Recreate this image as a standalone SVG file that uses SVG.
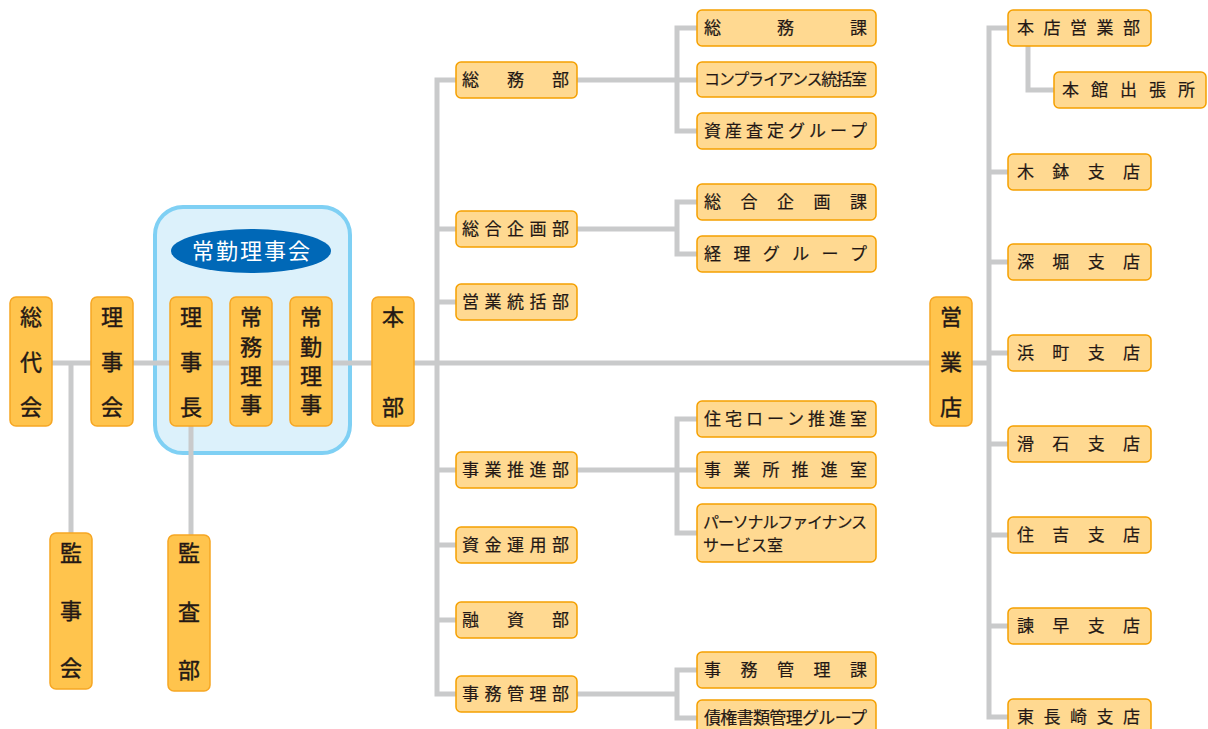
<svg xmlns="http://www.w3.org/2000/svg" width="1208" height="729" viewBox="0 0 1208 729">
<style>
.ln{stroke:#C9CACB;stroke-width:5;fill:none}
.dk{fill:#FFC44D;stroke:#F6A623;stroke-width:1.5}
.lt{fill:#FFD991;stroke:#F5A000;stroke-width:1.5}
text{font-family:"Noto Sans CJK JP","Noto Sans",sans-serif;fill:#231815}
.v{font-size:22px;text-anchor:middle;stroke:#231815;stroke-width:0.4}
.h{font-size:17px;stroke:#231815;stroke-width:0.2}
.s{font-size:16px;stroke:#231815;stroke-width:0.2}
</style>
<rect width="1208" height="729" fill="#FFFFFF"/>
<g id="joukin-container">
<rect x="155" y="207" width="195" height="246" rx="28" fill="#DCF1FB" stroke="#7FD0F4" stroke-width="4"/>
<ellipse cx="251" cy="251" rx="80" ry="22" fill="#0068B7"/>
<text x="251" y="259" text-anchor="middle" style="font-size:22px;fill:#FFFFFF" textLength="118" lengthAdjust="spacing">常勤理事会</text>
</g>
<g id="connectors">
<path class="ln" d="M52 363H989"/>
<path class="ln" d="M71 363V533"/>
<path class="ln" d="M191 426V535"/>
<path class="ln" d="M456 80H437V694H456M437 229H456M437 302H456M437 470H456M437 545H456M437 620H456"/>
<path class="ln" d="M577 80H677M697 28H677V131H697M677 80H697"/>
<path class="ln" d="M577 229H677M697 202H677V254H697"/>
<path class="ln" d="M577 470H697M697 419H677V533H697"/>
<path class="ln" d="M577 694H677M697 670H677V718H697"/>
<path class="ln" d="M1008 28H989V717H1008M989 172H1008M989 262H1008M989 353H1008M989 444H1008M989 535H1008M989 626H1008"/>
<path class="ln" d="M1028 46V90H1054"/>
</g>
<g id="soudaikai"><rect class="dk" x="10" y="297" width="42" height="129" rx="6"/><text class="v" x="31"><tspan x="31" y="325">総</tspan><tspan x="31" y="370">代</tspan><tspan x="31" y="415">会</tspan></text></g>
<g id="rijikai"><rect class="dk" x="91" y="297" width="42" height="129" rx="6"/><text class="v"><tspan x="112" y="325">理</tspan><tspan x="112" y="370">事</tspan><tspan x="112" y="415">会</tspan></text></g>
<g id="rijichou"><rect class="dk" x="170" y="297" width="42" height="129" rx="6"/><text class="v"><tspan x="191" y="325">理</tspan><tspan x="191" y="370">事</tspan><tspan x="191" y="415">長</tspan></text></g>
<g id="joumu"><rect class="dk" x="230" y="297" width="42" height="129" rx="6"/><text class="v"><tspan x="251" y="325">常</tspan><tspan x="251" y="355">務</tspan><tspan x="251" y="384">理</tspan><tspan x="251" y="413">事</tspan></text></g>
<g id="joukin"><rect class="dk" x="290" y="297" width="42" height="129" rx="6"/><text class="v"><tspan x="311" y="325">常</tspan><tspan x="311" y="355">勤</tspan><tspan x="311" y="384">理</tspan><tspan x="311" y="413">事</tspan></text></g>
<g id="kanjikai"><rect class="dk" x="50" y="533" width="42" height="156" rx="6"/><text class="v"><tspan x="71" y="561">監</tspan><tspan x="71" y="619">事</tspan><tspan x="71" y="676">会</tspan></text></g>
<g id="kansabu"><rect class="dk" x="168" y="535" width="42" height="156" rx="6"/><text class="v"><tspan x="189" y="561">監</tspan><tspan x="189" y="620">査</tspan><tspan x="189" y="678">部</tspan></text></g>
<g id="honbu"><rect class="dk" x="372" y="297" width="42" height="129" rx="6"/><text class="v"><tspan x="393" y="325">本</tspan><tspan x="393" y="415">部</tspan></text></g>
<g id="eigyouten"><rect class="dk" x="930" y="297" width="42" height="129" rx="6"/><text class="v"><tspan x="951" y="325">営</tspan><tspan x="951" y="370">業</tspan><tspan x="951" y="415">店</tspan></text></g>

<g id="soumubu"><rect class="lt" x="456" y="62" width="121" height="36" rx="5"/><text class="h" x="462" y="86" textLength="107" lengthAdjust="spacing">総　務　部</text></g>
<g id="sougoukikakubu"><rect class="lt" x="456" y="211" width="121" height="36" rx="5"/><text class="h" x="462" y="235" textLength="107" lengthAdjust="spacing">総合企画部</text></g>
<g id="eigyoutoukatsubu"><rect class="lt" x="456" y="284" width="121" height="36" rx="5"/><text class="h" x="462" y="308" textLength="107" lengthAdjust="spacing">営業統括部</text></g>
<g id="jigyousuishinbu"><rect class="lt" x="456" y="452" width="121" height="36" rx="5"/><text class="h" x="462" y="476" textLength="107" lengthAdjust="spacing">事業推進部</text></g>
<g id="shikinunyoubu"><rect class="lt" x="456" y="527" width="121" height="36" rx="5"/><text class="h" x="462" y="551" textLength="107" lengthAdjust="spacing">資金運用部</text></g>
<g id="yuushibu"><rect class="lt" x="456" y="602" width="121" height="36" rx="5"/><text class="h" x="462" y="626" textLength="107" lengthAdjust="spacing">融　資　部</text></g>
<g id="jimukanribu"><rect class="lt" x="456" y="676" width="121" height="36" rx="5"/><text class="h" x="462" y="700" textLength="107" lengthAdjust="spacing">事務管理部</text></g>

<g id="soumuka"><rect class="lt" x="697" y="10" width="179" height="36" rx="5"/><text class="h" x="704" y="34" textLength="163" lengthAdjust="spacing">総　　務　　課</text></g>
<g id="compliance"><rect class="lt" x="697" y="62" width="179" height="35" rx="5"/><text class="s" x="704" y="85" textLength="163" lengthAdjust="spacing">コンプライアンス統括室</text></g>
<g id="shisansatei"><rect class="lt" x="697" y="113" width="179" height="36" rx="5"/><text class="h" x="704" y="137" textLength="163" lengthAdjust="spacing">資産査定グループ</text></g>
<g id="sougoukikakuka"><rect class="lt" x="697" y="184" width="179" height="36" rx="5"/><text class="h" x="704" y="208" textLength="163" lengthAdjust="spacing">総合企画課</text></g>
<g id="keiri"><rect class="lt" x="697" y="236" width="179" height="36" rx="5"/><text class="h" x="704" y="260" textLength="163" lengthAdjust="spacing">経理グループ</text></g>
<g id="juutakuloan"><rect class="lt" x="697" y="401" width="179" height="36" rx="5"/><text class="h" x="704" y="425" textLength="163" lengthAdjust="spacing">住宅ローン推進室</text></g>
<g id="jigyousho"><rect class="lt" x="697" y="452" width="179" height="36" rx="5"/><text class="h" x="704" y="476" textLength="163" lengthAdjust="spacing">事業所推進室</text></g>
<g id="personal"><rect class="lt" x="697" y="504" width="179" height="58" rx="5"/><text class="s" x="703" y="528" textLength="164" lengthAdjust="spacing">パーソナルファイナンス</text><text class="s" x="703" y="551">サービス室</text></g>
<g id="jimukanrika"><rect class="lt" x="697" y="652" width="179" height="36" rx="5"/><text class="h" x="704" y="676" textLength="163" lengthAdjust="spacing">事務管理課</text></g>
<g id="saiken"><rect class="lt" x="697" y="700" width="179" height="36" rx="5"/><text class="h" x="704" y="724" textLength="163" lengthAdjust="spacing">債権書類管理グループ</text></g>

<g id="hontenEigyoubu"><rect class="lt" x="1008" y="10" width="143" height="36" rx="5"/><text class="h" x="1017" y="34" textLength="123" lengthAdjust="spacing">本店営業部</text></g>
<g id="honkan"><rect class="lt" x="1054" y="72" width="152" height="36" rx="5"/><text class="h" x="1062" y="96" textLength="133" lengthAdjust="spacing">本館出張所</text></g>
<g id="kibachi"><rect class="lt" x="1008" y="154" width="143" height="36" rx="5"/><text class="h" x="1017" y="178" textLength="123" lengthAdjust="spacing">木鉢支店</text></g>
<g id="fukahori"><rect class="lt" x="1008" y="244" width="143" height="36" rx="5"/><text class="h" x="1017" y="268" textLength="123" lengthAdjust="spacing">深堀支店</text></g>
<g id="hamamachi"><rect class="lt" x="1008" y="335" width="143" height="36" rx="5"/><text class="h" x="1017" y="359" textLength="123" lengthAdjust="spacing">浜町支店</text></g>
<g id="nameshi"><rect class="lt" x="1008" y="426" width="143" height="36" rx="5"/><text class="h" x="1017" y="450" textLength="123" lengthAdjust="spacing">滑石支店</text></g>
<g id="sumiyoshi"><rect class="lt" x="1008" y="517" width="143" height="36" rx="5"/><text class="h" x="1017" y="541" textLength="123" lengthAdjust="spacing">住吉支店</text></g>
<g id="isahaya"><rect class="lt" x="1008" y="608" width="143" height="36" rx="5"/><text class="h" x="1017" y="632" textLength="123" lengthAdjust="spacing">諫早支店</text></g>
<g id="higashinagasaki"><rect class="lt" x="1008" y="699" width="143" height="36" rx="5"/><text class="h" x="1017" y="723" textLength="123" lengthAdjust="spacing">東長崎支店</text></g>
</svg>
